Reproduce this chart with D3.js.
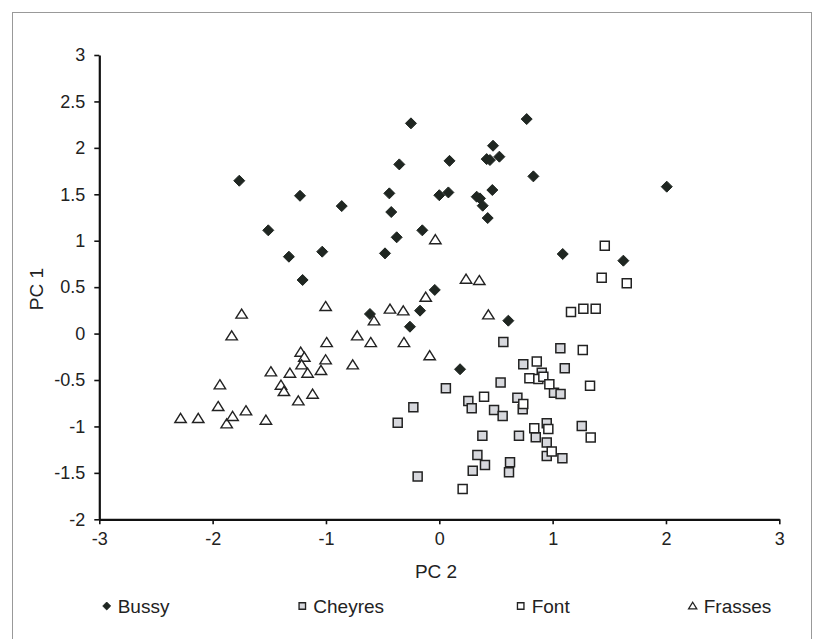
<!DOCTYPE html>
<html>
<head>
<meta charset="utf-8">
<script src="https://d3js.org/d3.v7.min.js"></script>
<style>
  html, body { margin: 0; padding: 0; background: #fff; }
  svg text { font-family: "Liberation Sans", Arial, sans-serif; fill: #222; }
</style>
</head>
<body>
<div id="chart"></div>
<script>
// PC 2 (x), PC 1 (y)
const bussy = [
  [-1.765, 1.646], [-1.229, 1.484], [-0.861, 1.373], [-0.25, 2.264], [-0.353, 1.822],
  [-0.441, 1.51], [-0.424, 1.309], [-1.509, 1.112], [-0.15, 1.112], [-0.376, 1.037],
  [-1.033, 0.882], [-1.327, 0.828], [-0.479, 0.864], [-1.206, 0.577], [0, 1.49],
  [0.08, 1.52], [0.09, 1.86], [0.771, 2.31], [0.474, 2.023], [0.418, 1.879],
  [0.447, 1.869], [0.53, 1.905], [0.83, 1.693], [0.33, 1.474], [0.359, 1.456],
  [0.383, 1.377], [0.468, 1.546], [0.427, 1.244], [2.007, 1.582], [1.089, 0.857],
  [1.624, 0.785], [-0.04, 0.47], [-0.612, 0.211], [-0.259, 0.074], [-0.17, 0.247],
  [0.609, 0.139], [0.183, -0.384]
];
const cheyres = [
  [-0.367, -0.959], [-0.229, -0.793], [-0.191, -1.54], [0.058, -0.589], [0.565, -0.09],
  [1.068, -0.158], [0.741, -0.33], [1.107, -0.374], [0.541, -0.528], [0.904, -0.421],
  [1.012, -0.636], [1.07, -0.65], [0.256, -0.726], [0.286, -0.804], [0.689, -0.69],
  [0.736, -0.815], [0.483, -0.822], [0.559, -0.887], [1.257, -0.995], [0.948, -0.966],
  [0.38, -1.1], [0.703, -1.1], [0.851, -1.117], [0.948, -1.174], [0.948, -1.318],
  [1.086, -1.343], [0.336, -1.307], [0.403, -1.414], [0.295, -1.476], [0.624, -1.386],
  [0.615, -1.493]
];
const font = [
  [1.46, 0.946], [1.433, 0.602], [1.654, 0.541], [1.162, 0.233], [1.271, 0.268],
  [1.38, 0.268], [1.266, -0.177], [0.86, -0.3], [0.795, -0.481], [0.874, -0.49],
  [0.918, -0.464], [0.971, -0.546], [1.33, -0.561], [0.395, -0.679], [0.741, -0.758],
  [0.838, -1.02], [0.962, -1.027], [1.336, -1.12], [0.992, -1.271], [0.206, -1.673]
];
const frasses = [
  [-0.035, 1.01], [0.236, 0.584], [0.353, 0.57], [0.433, 0.2], [-0.085, -0.24],
  [-2.283, -0.916], [-2.127, -0.916], [-1.951, -0.787], [-1.936, -0.553], [-1.876, -0.973],
  [-1.824, -0.894], [-1.706, -0.833], [-1.832, -0.026], [-1.744, 0.208], [-1.53, -0.934],
  [-1.486, -0.413], [-1.397, -0.557], [-1.371, -0.625], [-1.318, -0.428], [-1.244, -0.726],
  [-1.223, -0.202], [-1.191, -0.256], [-1.215, -0.338], [-1.162, -0.428], [-1.118, -0.654],
  [-1.044, -0.399], [-1.003, -0.284], [-0.994, -0.098], [-1.003, 0.29], [-0.764, -0.338],
  [-0.724, -0.026], [-0.605, -0.098], [-0.576, 0.136], [-0.435, 0.262], [-0.318, 0.243],
  [-0.312, -0.098], [-0.12, 0.39]
];

const xTicks = [-3, -2, -1, 0, 1, 2, 3];
const yTicks = [-2, -1.5, -1, -0.5, 0, 0.5, 1, 1.5, 2, 2.5, 3];
const seriesNames = ["Bussy", "Cheyres", "Font", "Frasses"];

const width = 817;
const height = 639;
const margin = { left: 99.3, right: 37.7, top: 55, bottom: 119.7 };

const svg = d3.select("#chart").append("svg")
  .attr("width", width)
  .attr("height", height);

// outer frame
svg.append("rect")
  .attr("x", 12.5).attr("y", 12.5)
  .attr("width", 799).attr("height", 640)
  .attr("fill", "none")
  .attr("stroke", "#999")
  .attr("stroke-width", 1);

const x = d3.scaleLinear().domain([-3, 3]).range([margin.left, width - margin.right]);
const y = d3.scaleLinear().domain([-2, 3]).range([height - margin.bottom, margin.top]);

const xAxis = svg.append("g")
  .attr("transform", `translate(0,${y(-2)})`)
  .call(d3.axisBottom(x).tickValues(xTicks).tickSize(5).tickPadding(8).tickSizeOuter(0)
    .tickFormat(d => String(d)));

const yAxis = svg.append("g")
  .attr("transform", `translate(${x(-3)},0)`)
  .call(d3.axisLeft(y).tickValues(yTicks).tickSize(5).tickPadding(9).tickSizeOuter(0)
    .tickFormat(d => String(d)));

[xAxis, yAxis].forEach(g => {
  g.select(".domain").attr("stroke", "#111").attr("stroke-width", 2.2);
  g.selectAll(".tick line").attr("stroke", "#111").attr("stroke-width", 1.6);
  g.selectAll(".tick text")
    .attr("font-size", 18)
    .attr("font-family", "Liberation Sans, Arial, sans-serif")
    .attr("fill", "#222");
});

// axis titles
svg.append("text")
  .attr("x", 436).attr("y", 578)
  .attr("text-anchor", "middle")
  .attr("font-size", 19)
  .text("PC 2");

svg.append("text")
  .attr("transform", "translate(43,289) rotate(-90)")
  .attr("text-anchor", "middle")
  .attr("font-size", 19)
  .text("PC 1");

// marker shapes
const diamond = s => `M0,${-s}L${s},0L0,${s}L${-s},0Z`;
const square = s => `M${-s},${-s}H${s}V${s}H${-s}Z`;
const triangle = s => `M0,${-s}L${s * 1.1},${s * 0.75}H${-s * 1.1}Z`;

const styles = [
  { data: bussy, path: diamond, size: 5.5, fill: "#1f2621", stroke: "#1f2621", sw: 1 },
  { data: cheyres, path: square, size: 4.5, fill: "#d7d8dd", stroke: "#222", sw: 1.5 },
  { data: font, path: square, size: 4.5, fill: "#fff", stroke: "#222", sw: 1.5 },
  { data: frasses, path: triangle, size: 5.2, fill: "#fff", stroke: "#222", sw: 1.4 }
];

const plot = svg.append("g");
styles.forEach(st => {
  plot.append("g")
    .selectAll("path")
    .data(st.data)
    .join("path")
    .attr("transform", d => `translate(${x(d[0])},${y(d[1])})`)
    .attr("d", st.path(st.size))
    .attr("fill", st.fill)
    .attr("stroke", st.stroke)
    .attr("stroke-width", st.sw);
});

// legend
const legendX = [106.7, 302.3, 520.7, 692.7];
const legend = svg.append("g");
seriesNames.forEach((name, i) => {
  const st = styles[i];
  const g = legend.append("g").attr("transform", `translate(${legendX[i]},606)`);
  g.append("path")
    .attr("d", st.path(st.size * 0.72))
    .attr("fill", st.fill)
    .attr("stroke", st.stroke)
    .attr("stroke-width", st.sw * 0.9);
  g.append("text")
    .attr("x", 11)
    .attr("y", 6.8)
    .attr("font-size", 19)
    .text(name);
});
</script>
</body>
</html>
